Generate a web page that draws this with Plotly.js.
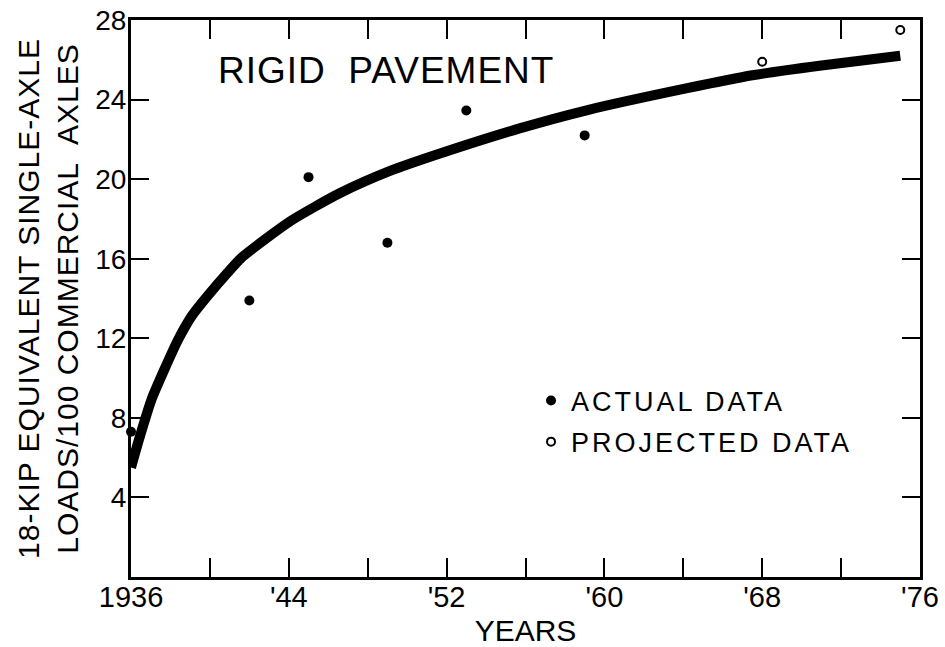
<!DOCTYPE html>
<html>
<head>
<meta charset="utf-8">
<script src="https://cdn.plot.ly/plotly-3.0.1.min.js"></script>
<style>
  html, body { margin: 0; padding: 0; background: #fff; }
  #chart { width: 945px; height: 647px; }
  .legendtext { letter-spacing: 3px; }
  .ytitle { letter-spacing: 1px; }
  .annotation-text { letter-spacing: 1px; }
</style>
</head>
<body>
<div id="chart"></div>
<script>
// Trend curve
const curveYears = [1936.0, 1936.4, 1937.05, 1937.7, 1938.4, 1939.1, 1939.9, 1940.9, 1941.6, 1944.1, 1946.6, 1949.1, 1951.7, 1955.7, 1959.1, 1964.2, 1967.5, 1970.9, 1975.0];
const curveLoads = [5.5, 6.9, 8.95, 10.45, 11.95, 13.15, 14.15, 15.3, 16.05, 17.9, 19.3, 20.4, 21.3, 22.55, 23.46, 24.57, 25.22, 25.7, 26.2];

// Actual data points
const actualYears = [1936, 1942, 1945, 1949, 1953, 1959];
const actualLoads = [7.3, 13.9, 20.1, 16.8, 23.45, 22.2];

// Projected data points
const projectedYears = [1968, 1975];
const projectedLoads = [25.9, 27.5];

// Axis ticks
const xTickVals = [1936, 1940, 1944, 1948, 1952, 1956, 1960, 1964, 1968, 1972, 1976];
const xTickText = ['1936', '', "'44", '', "'52", '', "'60", '', "'68", '', "'76"];
const yTickVals = [0, 4, 8, 12, 16, 20, 24, 28];
const yTickText = ['', '4', '8', '12', '16', '20', '24', '28'];

const FONT = 'Liberation Sans, Arial, sans-serif';

const traces = [
  {
    x: curveYears, y: curveLoads,
    type: 'scatter', mode: 'lines',
    line: { color: '#000', width: 10, shape: 'spline', smoothing: 0.6 },
    showlegend: false, hoverinfo: 'skip'
  },
  {
    x: actualYears, y: actualLoads,
    type: 'scatter', mode: 'markers', name: 'ACTUAL DATA',
    legendgroup: 'a',
    marker: { color: '#000', size: 10, symbol: 'circle' },
    cliponaxis: false
  },
  {
    x: projectedYears, y: projectedLoads,
    type: 'scatter', mode: 'markers', name: 'PROJECTED DATA',
    legendgroup: 'b',
    marker: { color: '#000', size: 8, symbol: 'circle-open', line: { color: '#000', width: 2 } },
    cliponaxis: false
  }
];

const layout = {
  width: 945, height: 647,
  margin: { l: 131, r: 25, t: 20, b: 70 },
  paper_bgcolor: '#fff', plot_bgcolor: '#fff',
  font: { family: FONT, color: '#000', size: 28 },
  showlegend: true,
  legend: {
    x: 0.507, y: 0.36, xanchor: 'left', yanchor: 'top',
    bgcolor: 'rgba(0,0,0,0)', borderwidth: 0,
    font: { family: FONT, size: 27, color: '#000' },
    tracegroupgap: 3
  },
  xaxis: {
    range: [1936, 1976],
    tickmode: 'array', tickvals: xTickVals, ticktext: xTickText,
    ticks: 'inside', ticklen: 19, tickwidth: 2, tickcolor: '#000',
    showline: true, linewidth: 3, linecolor: '#000', mirror: 'allticks',
    showgrid: false, zeroline: false, ticklabelstandoff: -8,
    tickfont: { family: FONT, size: 29, color: '#000' },
    title: { text: 'YEARS', font: { family: FONT, size: 30, color: '#000' }, standoff: 10 }
  },
  yaxis: {
    range: [0, 28],
    tickmode: 'array', tickvals: yTickVals, ticktext: yTickText,
    ticks: 'inside', ticklen: 18, tickwidth: 2, tickcolor: '#000',
    showline: true, linewidth: 3, linecolor: '#000', mirror: 'allticks',
    showgrid: false, zeroline: false, ticklabelstandoff: -4,
    tickfont: { family: FONT, size: 28, color: '#000' },
    title: {
      text: '18-KIP EQUIVALENT SINGLE-AXLE<br>LOADS/100 COMMERCIAL\u00A0 AXLES',
      font: { family: FONT, size: 30, color: '#000' }, standoff: 8
    }
  },
  annotations: [
    {
      text: 'RIGID\u00A0\u00A0PAVEMENT',
      xref: 'paper', yref: 'paper', x: 0.108, y: 0.91,
      xanchor: 'left', yanchor: 'middle', showarrow: false,
      font: { family: FONT, size: 37, color: '#000' }
    }
  ]
};

Plotly.newPlot('chart', traces, layout, { displayModeBar: false, staticPlot: true });
</script>
</body>
</html>
